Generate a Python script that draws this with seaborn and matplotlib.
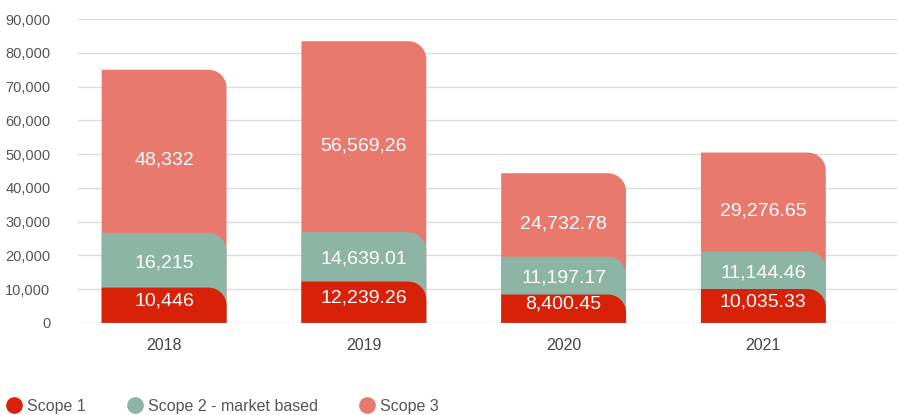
import numpy as np
import pandas as pd
import seaborn as sns
import matplotlib.pyplot as plt
from matplotlib.path import Path
from matplotlib.patches import PathPatch
from matplotlib.lines import Line2D
from matplotlib.ticker import FuncFormatter

# datos
years = ["2018", "2019", "2020", "2021"]
scope1 = [10446, 12239.26, 8400.45, 10035.33]
scope2 = [16215, 14639.01, 11197.17, 11144.46]
scope3 = [48332, 56569.26, 24732.78, 29276.65]
labels1 = ["10,446", "12,239.26", "8,400.45", "10,035.33"]
labels2 = ["16,215", "14,639.01", "11,197.17", "11,144.46"]
labels3 = ["48,332", "56,569,26", "24,732.78", "29,276.65"]
series = ["Scope 1", "Scope 2 - market based", "Scope 3"]
colors = ["#d82109", "#8db5a6", "#e8796c"]

sns.set_style("white")
plt.rcParams['font.family'] = ['Liberation Sans', 'DejaVu Sans']

df = pd.DataFrame({"year": years, "s1": scope1, "s2": scope2, "s3": scope3})
df["c2"] = df["s1"] + df["s2"]
df["c3"] = df["c2"] + df["s3"]

fig = plt.figure(figsize=(8.99, 4.15), dpi=100)
ax = fig.add_axes([0.087, 0.222, 0.911, 0.732])

# barras apiladas: total primero, luego encima las parciales
groups = []
for col, c in zip(["c3", "c2", "s1"], [colors[2], colors[1], colors[0]]):
    n = len(ax.patches)
    sns.barplot(data=df, x="year", y=col, color=c, saturation=1, width=0.625, ax=ax)
    groups.append(list(ax.patches[n:]))

ax.set_ylim(0, 90000)
ax.set_xlim(-0.43, 3.67)

# esquina superior derecha redondeada
px_w = ax.get_position().width * fig.get_figwidth() * fig.dpi
px_h = ax.get_position().height * fig.get_figheight() * fig.dpi
rx = 18 * 4.1 / px_w
ry = 18 * 90000 / px_h
k = 0.5523
for g in groups:
    for p in g:
        x0, y0 = p.get_x(), p.get_y()
        w, h = p.get_width(), p.get_height()
        x1, y1 = x0 + w, y0 + h
        verts = [(x0, y0), (x1, y0), (x1, y1 - ry),
                 (x1, y1 - ry + k * ry), (x1 - rx + k * rx, y1), (x1 - rx, y1),
                 (x0, y1), (x0, y0)]
        codes = [Path.MOVETO, Path.LINETO, Path.LINETO,
                 Path.CURVE4, Path.CURVE4, Path.CURVE4,
                 Path.LINETO, Path.CLOSEPOLY]
        pp = PathPatch(Path(verts, codes), facecolor=p.get_facecolor(), edgecolor='none', zorder=2)
        p.set_visible(False)
        ax.add_patch(pp)

# etiquetas de valores
for i in range(len(years)):
    ax.text(i, scope1[i] / 2 + 1300, labels1[i], ha='center', va='center', color='white', fontsize=14, zorder=3)
    ax.text(i, scope1[i] + scope2[i] / 2 - 700, labels2[i], ha='center', va='center', color='white', fontsize=14, zorder=3)
    ax.text(i, scope1[i] + scope2[i] + scope3[i] / 2 - 2700, labels3[i], ha='center', va='center', color='white', fontsize=14, zorder=3)

ax.set_yticks(np.arange(0, 90001, 10000))
ax.yaxis.set_major_formatter(FuncFormatter(lambda v, _: f"{int(v):,}"))
ax.grid(axis='y', color='#dcdcdc', linewidth=1)
ax.set_axisbelow(True)
for s in ax.spines.values():
    s.set_visible(False)
ax.tick_params(axis='y', length=0, pad=20, labelsize=10.5, labelcolor='#555555')
ax.tick_params(axis='x', length=0, pad=11, labelsize=11.5, labelcolor='#444444')
ax.set_xlabel('')
ax.set_ylabel('')

handles = [Line2D([], [], marker='o', linestyle='none', markersize=11, color=c) for c in colors]
fig.legend(handles, series, loc='lower left', bbox_to_anchor=(-0.004, -0.02), ncol=3, frameon=False,
           fontsize=11.5, labelcolor='#555555', handlelength=1.0, handletextpad=0.3,
           columnspacing=2.6, borderaxespad=0.2)

plt.savefig('out.png', dpi=100)
